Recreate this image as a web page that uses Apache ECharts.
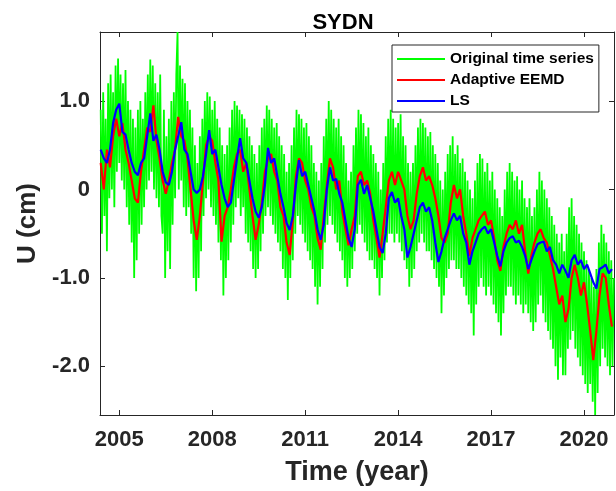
<!DOCTYPE html>
<html><head><meta charset="utf-8">
<script src="https://cdn.jsdelivr.net/npm/echarts@6/dist/echarts.min.js"></script>
<style>html,body{margin:0;padding:0;background:#fff}#c{width:616px;height:491px}</style>
</head><body><div id="c"></div>
<script>
// Original time series (sampled every 0.04 yr from 2004.40)
const greenStart = 2004.40, greenStep = 0.04;
const originalSeries = [
  0.9,-0.5,1.1,-0.3,0.8,-0.7,1.2,-0.1,1.3,0.0,1.1,-0.2,1.4,0.2,1.48,0.3,1.3,0.1,1.2,0.0,1.35,-0.2,1.0,-0.4,0.9,
  -0.6,0.8,-1.0,0.7,-0.8,0.9,-0.5,1.0,-0.4,0.8,-0.2,1.1,0.0,1.3,0.1,1.47,0.2,1.4,0.0,1.2,-0.1,1.1,-0.2,1.3,-0.3,
  -0.5,0.9,-1.0,0.6,-0.7,0.8,-0.9,1.0,-0.4,1.1,-0.1,1.3,1.78,0.0,1.4,0.1,1.25,-0.2,1.2,-0.3,1.0,-0.2,0.9,-0.5,0.7,
  -1.0,0.5,-1.15,0.3,-1.0,0.6,-0.7,0.8,-0.3,1.0,-0.1,1.1,0.0,1.05,-0.2,0.9,-0.3,1.0,-0.4,0.8,-0.6,0.7,-0.8,0.5,-1.2,
  0.4,-1.0,0.5,-0.8,0.7,-0.6,0.9,-0.4,1.0,-0.2,0.95,-0.1,0.9,-0.3,0.85,-0.2,0.8,-0.5,0.7,-0.6,0.6,-0.7,0.5,-0.9,0.4,
  -1.0,0.3,-0.9,0.5,-0.7,0.7,-0.5,0.8,-0.3,0.95,-0.2,0.9,-0.3,0.8,-0.4,0.7,-0.5,0.75,-0.6,0.6,-0.7,0.5,-0.9,0.4,-1.0,
  0.2,-1.25,0.3,-1.0,0.5,-0.8,0.7,-0.5,0.9,-0.3,0.85,-0.4,0.8,-0.5,0.7,-0.6,0.75,-0.7,0.6,-0.8,0.5,-0.9,0.3,-1.1,0.2,
  -1.3,0.1,-1.1,0.3,-0.9,0.6,-0.6,0.8,-0.4,1.0,-0.3,0.9,-0.4,0.8,-0.5,0.7,-0.6,0.8,-0.7,0.6,-0.8,0.5,-1.0,0.3,-1.1,
  0.1,-1.0,0.2,-0.9,0.5,-0.7,0.7,-0.5,0.9,-0.4,0.85,-0.5,0.75,-0.6,0.6,-0.7,0.7,-0.8,0.5,-0.8,0.4,-0.9,0.3,-1.0,0.2,
  -1.2,0.0,-1.0,0.3,-0.8,0.6,-0.6,0.8,-0.5,0.9,-0.5,0.8,-0.6,0.7,-0.5,0.75,-0.6,0.85,-0.7,0.6,-0.8,0.5,-0.9,0.3,-1.1,
  0.2,-1.0,0.3,-0.9,0.5,-0.7,0.7,-0.6,0.8,-0.5,0.75,-0.6,0.7,-0.7,0.6,-0.7,0.65,-0.8,0.5,-0.9,0.4,-1.0,0.3,-1.1,0.1,
  -1.4,0.0,-1.2,0.2,-1.0,0.4,-0.9,0.5,-0.8,0.6,-0.8,0.4,-0.9,0.5,-0.9,0.3,-1.0,0.35,-1.1,0.2,-1.2,0.1,-1.3,0.0,-1.4,
  -0.1,-1.65,0.1,-1.3,0.3,-1.1,0.4,-1.0,0.35,-1.1,0.2,-1.2,0.3,-1.1,0.1,-1.2,0.2,-1.3,0.0,-1.4,-0.1,-1.5,-0.2,-1.65,-0.3,
  -1.4,0.0,-1.2,0.2,-1.1,0.3,-1.1,0.2,-1.2,0.1,-1.3,0.15,-1.2,0.0,-1.3,0.1,-1.4,-0.1,-1.3,-0.2,-1.4,-0.1,-1.5,-0.3,-1.6,
  -0.2,-1.5,0.0,-1.3,0.2,-1.2,0.1,-1.4,0.0,-1.5,-0.1,-1.6,-0.2,-1.7,-0.3,-1.8,-0.4,-2.0,-0.5,-2.15,-0.6,-1.9,-0.5,-2.1,-0.7,
  -2.1,-0.5,-1.8,-0.2,-1.7,-0.1,-1.6,-0.3,-1.8,-0.4,-1.9,-0.5,-2.0,-0.6,-2.1,-0.7,-2.2,-0.8,-2.3,-0.9,-2.2,-1.0,-2.4,-1.1,-2.55,
  -0.9,-2.3,-0.6,-2.0,-0.4,-1.8,-0.5,-1.9,-0.6,-2.0,-0.7,-2.1,-0.8,-2.0,-1.0
];
// Adaptive EEMD and LS (sampled every 0.1 yr from 2004.4)
const smoothStart = 2004.4, smoothStep = 0.1;
const adaptiveEEMD = [
  0.30,0.00,0.45,0.25,0.60,0.80,
  0.60,0.75,0.45,0.30,0.10,-0.10,-0.15,0.20,0.45,0.70,
  0.65,0.95,0.55,0.35,0.10,-0.05,0.10,0.30,0.45,0.82,
  0.60,0.55,0.35,0.00,-0.35,-0.57,-0.30,0.10,0.50,0.60,
  0.55,0.30,0.10,-0.59,-0.30,-0.20,0.00,0.25,0.40,0.45,
  0.20,0.30,0.00,-0.30,-0.57,-0.40,-0.15,0.20,0.35,0.40,
  0.20,0.10,-0.20,-0.30,-0.60,-0.74,-0.35,0.15,0.35,0.30,
  0.10,0.00,-0.20,-0.30,-0.55,-0.68,-0.30,0.05,0.35,0.25,
  0.00,0.10,-0.25,-0.45,-0.63,-0.45,-0.30,0.15,0.20,0.05,
  0.10,-0.05,-0.35,-0.55,-0.77,-0.50,-0.20,0.10,0.20,0.05,
  0.20,0.10,0.00,-0.30,-0.45,-0.35,-0.05,0.15,0.25,0.10,
  0.15,0.05,-0.10,-0.30,-0.55,-0.60,-0.50,-0.15,0.05,-0.10,
  0.00,-0.30,-0.50,-0.75,-0.55,-0.45,-0.35,-0.30,-0.25,-0.40,
  -0.35,-0.55,-0.80,-0.92,-0.65,-0.50,-0.40,-0.45,-0.35,-0.50,
  -0.40,-0.70,-0.95,-0.75,-0.60,-0.50,-0.45,-0.55,-0.60,-0.75,
  -0.90,-1.10,-1.30,-1.20,-1.50,-1.35,-1.00,-0.85,-1.00,-1.20,
  -1.05,-1.30,-1.60,-1.93,-1.60,-1.20,-0.95,-1.00,-1.30,-1.55
];
const lsSeries = [
  0.45,0.35,0.30,0.45,0.75,0.90,
  0.97,0.65,0.62,0.45,0.30,0.20,0.16,0.30,0.35,0.60,
  0.86,0.55,0.62,0.45,0.20,0.08,0.05,0.20,0.45,0.60,
  0.76,0.45,0.40,0.20,0.00,-0.04,0.00,0.15,0.40,0.67,
  0.40,0.45,0.25,0.05,-0.10,-0.20,-0.15,0.10,0.35,0.58,
  0.35,0.30,0.10,-0.10,-0.25,-0.32,-0.20,0.05,0.47,0.30,
  0.35,0.15,-0.05,-0.20,-0.38,-0.46,-0.30,0.05,0.33,0.15,
  0.20,0.05,-0.10,-0.25,-0.45,-0.57,-0.40,0.00,0.25,0.10,
  0.12,-0.05,-0.15,-0.35,-0.55,-0.65,-0.45,0.05,0.11,-0.05,
  0.05,-0.10,-0.25,-0.45,-0.65,-0.72,-0.50,-0.10,-0.03,-0.15,
  -0.10,-0.30,-0.45,-0.77,-0.65,-0.50,-0.35,-0.20,-0.15,-0.25,
  -0.20,-0.35,-0.60,-0.82,-0.70,-0.55,-0.45,-0.35,-0.27,-0.35,
  -0.30,-0.50,-0.60,-0.85,-0.70,-0.60,-0.50,-0.45,-0.42,-0.50,
  -0.45,-0.60,-0.75,-0.87,-0.70,-0.60,-0.55,-0.53,-0.60,-0.58,
  -0.65,-0.75,-0.90,-0.80,-0.70,-0.62,-0.60,-0.59,-0.70,-0.65,
  -0.80,-0.85,-0.95,-0.85,-0.92,-1.00,-0.80,-0.74,-0.85,-0.80,
  -0.90,-0.85,-0.95,-1.05,-1.12,-0.90,-0.88,-0.85,-0.95,-0.90
];
const xTicks = [2005, 2008, 2011, 2014, 2017, 2020];
const yTicks = [-2, -1, 0, 1];
const yTickLabels = ['-2.0', '-1.0', '0', '1.0'];
const seriesNames = ['Original time series', 'Adaptive EEMD', 'LS'];

const toPairs = (arr, start, step) => arr.map((v, i) => [+(start + i * step).toFixed(3), v]);

const axisColor = '#262626';
const fontFam = '"Liberation Sans", Arial, sans-serif';
const baseX = {
  type: 'value', min: 2004.377, max: 2020.968,
  axisLine: { show: true, onZero: false, lineStyle: { color: axisColor, width: 1 } },
  axisTick: { show: true, inside: true, length: 5, customValues: xTicks, lineStyle: { color: axisColor } },
  splitLine: { show: false }
};
const baseY = {
  type: 'value', min: -2.55, max: 1.78,
  axisLine: { show: true, onZero: false, lineStyle: { color: axisColor, width: 1 } },
  axisTick: { show: true, inside: true, length: 5, customValues: yTicks, lineStyle: { color: axisColor } },
  splitLine: { show: false }
};

const chart = echarts.init(document.getElementById('c'), null, { renderer: 'canvas' });
chart.setOption({
  animation: false,
  backgroundColor: '#fff',
  textStyle: { fontFamily: fontFam },
  title: {
    text: 'SYDN', left: 343, top: 12, textAlign: 'center', padding: 0,
    textStyle: { fontSize: 22, fontWeight: 'bold', color: '#000', fontFamily: fontFam }
  },
  grid: { left: 100, top: 32, width: 514, height: 383, containLabel: false },
  xAxis: [
    Object.assign({}, baseX, {
      position: 'bottom',
      axisLabel: { show: true, customValues: xTicks, margin: 14, fontSize: 22, fontWeight: 'bold', color: axisColor, fontFamily: fontFam,
        formatter: v => String(Math.round(v)) },
      name: 'Time (year)', nameLocation: 'middle', nameGap: 44,
      nameTextStyle: { fontSize: 27, fontWeight: 'bold', color: axisColor, fontFamily: fontFam }
    }),
    Object.assign({}, baseX, { position: 'top', axisLabel: { show: false } })
  ],
  yAxis: [
    Object.assign({}, baseY, {
      position: 'left',
      axisLabel: {
        show: true, customValues: yTicks, margin: 10, fontSize: 22, fontWeight: 'bold', color: axisColor, fontFamily: fontFam,
        formatter: v => yTickLabels[yTicks.indexOf(Math.round(v))]
      },
      name: 'U (cm)', nameLocation: 'middle', nameGap: 58, nameRotate: 90,
      nameTextStyle: { fontSize: 26, fontWeight: 'bold', color: axisColor, fontFamily: fontFam }
    }),
    Object.assign({}, baseY, { position: 'right', axisLabel: { show: false } })
  ],
  legend: {
    data: seriesNames, orient: 'vertical', left: 392, top: 45,
    icon: 'rect', itemWidth: 48, itemHeight: 2, itemGap: 5,
    padding: [6, 5, 3, 5],
    backgroundColor: '#fff', borderColor: axisColor, borderWidth: 1,
    textStyle: { fontSize: 15.5, fontWeight: 'bold', color: '#000', fontFamily: fontFam, lineHeight: 15 }
  },
  series: [
    {
      name: seriesNames[0], type: 'line', xAxisIndex: 0, yAxisIndex: 0, color: '#00ff00',
      showSymbol: false, symbol: 'none', data: toPairs(originalSeries, greenStart, greenStep),
      lineStyle: { color: '#00ff00', width: 1.8 }, z: 2
    },
    {
      name: seriesNames[1], type: 'line', xAxisIndex: 0, yAxisIndex: 0, color: '#ff0000',
      showSymbol: false, symbol: 'none', data: toPairs(adaptiveEEMD, smoothStart, smoothStep),
      lineStyle: { color: '#ff0000', width: 2.2 }, z: 3
    },
    {
      name: seriesNames[2], type: 'line', xAxisIndex: 0, yAxisIndex: 0, color: '#0000ff',
      showSymbol: false, symbol: 'none', data: toPairs(lsSeries, smoothStart, smoothStep),
      lineStyle: { color: '#0000ff', width: 2.2 }, z: 4
    }
  ]
});
</script>
</body></html>
